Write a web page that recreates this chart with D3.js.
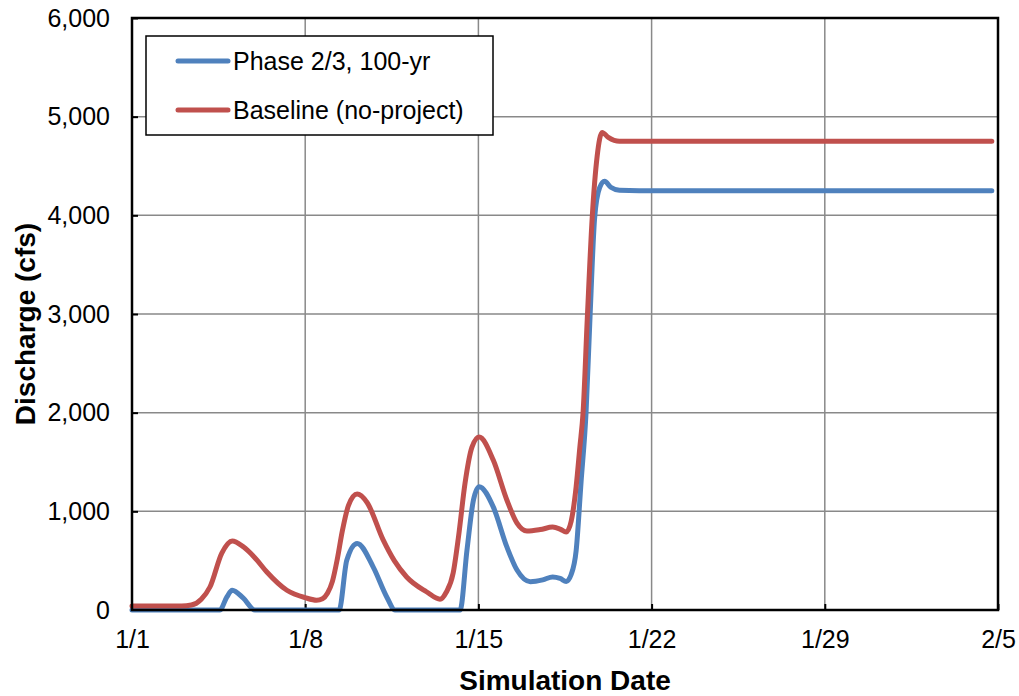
<!DOCTYPE html>
<html>
<head>
<meta charset="utf-8">
<script src="https://cdn.jsdelivr.net/npm/d3@7"></script>
<style>
  body { margin: 0; background: #fff; }
  text { font-family: "Liberation Sans", Arial, sans-serif; fill: #000; }
</style>
</head>
<body>
<div id="chart1"></div>
<script>

// days since 1/1
var phaseDays = [0, 3.55, 3.83, 4.05, 4.5, 4.97, 8.37, 8.68, 9.1, 9.75, 10.3, 10.63, 13.26, 13.54, 13.8, 14.03, 14.6, 15.15, 15.56, 16.1, 16.6, 17.0, 17.3, 17.55, 17.75, 17.95, 18.15, 18.35, 18.5, 18.7, 18.9, 19.1, 19.35, 19.7, 20.5, 34.75];
var phaseFlow = [0, 0, 130, 200, 120, 0, 0, 505, 675, 435, 130, 0, 0, 610, 1115, 1250, 1045, 640, 405, 287, 305, 335, 320, 290, 360, 600, 1300, 2000, 2900, 3980, 4280, 4345, 4285, 4255, 4250, 4250];

var baseDays = [0, 2.0, 2.4, 2.8, 3.15, 3.63, 4.05, 4.5, 5.0, 5.45, 6.26, 7.0, 7.46, 7.7, 7.9, 8.1, 8.3, 8.5, 8.75, 9.1, 9.5, 10.15, 10.6, 11.1, 11.9, 12.45, 12.7, 12.98, 13.2, 13.46, 13.74, 14.03, 14.6, 15.15, 15.56, 15.96, 16.5, 17.0, 17.3, 17.55, 17.75, 17.95, 18.1, 18.23, 18.4, 18.6, 18.8, 19.0, 19.25, 19.7, 20.5, 34.75];
var baseFlow = [40, 40, 50, 110, 233, 577, 700, 640, 520, 385, 200, 125, 100, 115, 170, 290, 520, 800, 1060, 1175, 1090, 710, 500, 335, 185, 110, 180, 375, 750, 1285, 1650, 1753, 1520, 1115, 880, 800, 815, 840, 820, 790, 900, 1250, 1650, 2000, 2950, 3980, 4600, 4840, 4790, 4750, 4750, 4750];

var tickDays = [0, 7, 14, 21, 28, 35];
var tickLabels = ["1/1", "1/8", "1/15", "1/22", "1/29", "2/5"];
var yTicks = [0, 1000, 2000, 3000, 4000, 5000, 6000];

var seriesNames = ["Phase 2/3, 100-yr", "Baseline (no-project)"];
var seriesColors = ["#4f81bd", "#c0504d"];

var width = 1019, height = 696;
var margin = {top: 18, right: 21, bottom: 86, left: 132};
var w = width - margin.left - margin.right;
var h = height - margin.top - margin.bottom;

var svg = d3.select("#chart1")
    .append("svg")
    .attr("width", width)
    .attr("height", height);

var g = svg.append("g")
    .attr("transform", "translate(" + margin.left + "," + margin.top + ")");

var xScale = d3.scaleLinear().domain([0, 35]).range([0, w]);
var yScale = d3.scaleLinear().domain([0, 6000]).range([h, 0]);

// grid
g.selectAll(".vgrid")
    .data(tickDays)
    .enter().append("line")
        .attr("x1", function(d) { return xScale(d); })
        .attr("x2", function(d) { return xScale(d); })
        .attr("y1", 0)
        .attr("y2", h)
        .attr("stroke", "#898989")
        .attr("stroke-width", 1.5);

g.selectAll(".hgrid")
    .data(yTicks)
    .enter().append("line")
        .attr("x1", 0)
        .attr("x2", w)
        .attr("y1", function(d) { return yScale(d); })
        .attr("y2", function(d) { return yScale(d); })
        .attr("stroke", "#898989")
        .attr("stroke-width", 1.5);

// axes (ticks inward)
var xAxis = d3.axisBottom(xScale)
    .tickValues(tickDays)
    .tickSize(-6)
    .tickPadding(20)
    .tickFormat(function(d, i) { return tickLabels[i]; });

var yAxis = d3.axisLeft(yScale)
    .tickValues(yTicks)
    .tickSize(-6)
    .tickPadding(22)
    .tickFormat(d3.format(","));

var gx = g.append("g")
    .attr("transform", "translate(0," + h + ")")
    .call(xAxis);

var gy = g.append("g").call(yAxis);

[gx, gy].forEach(function(ax) {
    ax.select(".domain").remove();
    ax.selectAll(".tick line").attr("stroke", "#000").attr("stroke-width", 2);
    ax.selectAll(".tick text")
        .attr("font-size", "25px")
        .attr("font-family", "Liberation Sans, Arial, sans-serif")
        .attr("fill", "#000");
});

// lines
var series = [
    {name: seriesNames[0], color: seriesColors[0], values: phaseDays.map(function(d, i) { return [d, phaseFlow[i]]; })},
    {name: seriesNames[1], color: seriesColors[1], values: baseDays.map(function(d, i) { return [d, baseFlow[i]]; })}
];

var line = d3.line()
    .x(function(d) { return xScale(d[0]); })
    .y(function(d) { return yScale(d[1]); })
    .curve(d3.curveMonotoneX);

g.selectAll(".series")
    .data(series)
    .enter().append("path")
        .attr("d", function(d) { return line(d.values); })
        .attr("fill", "none")
        .attr("stroke", function(d) { return d.color; })
        .attr("stroke-width", 5)
        .attr("stroke-linecap", "round")
        .attr("stroke-linejoin", "round");

// frame
g.append("rect")
    .attr("width", w)
    .attr("height", h)
    .attr("fill", "none")
    .attr("stroke", "#000")
    .attr("stroke-width", 2.5);

// legend
var legend = svg.append("g").attr("transform", "translate(146,36)");
legend.append("rect")
    .attr("width", 347)
    .attr("height", 99)
    .attr("fill", "#fff")
    .attr("stroke", "#000")
    .attr("stroke-width", 1.5);

var items = legend.selectAll(".item")
    .data(series)
    .enter().append("g")
        .attr("transform", function(d, i) { return "translate(0," + (25 + i * 49) + ")"; });

items.append("line")
    .attr("x1", 32).attr("x2", 82)
    .attr("stroke", function(d) { return d.color; })
    .attr("stroke-width", 5)
    .attr("stroke-linecap", "round");

items.append("text")
    .attr("x", 87)
    .attr("dy", "0.35em")
    .attr("font-size", "25px")
    .text(function(d) { return d.name; });

// axis titles
svg.append("text")
    .attr("x", margin.left + w / 2)
    .attr("y", 690)
    .attr("text-anchor", "middle")
    .attr("font-size", "28px")
    .attr("font-weight", "bold")
    .text("Simulation Date");

svg.append("text")
    .attr("transform", "translate(35," + (margin.top + h / 2 + 10) + ") rotate(-90)")
    .attr("text-anchor", "middle")
    .attr("font-size", "28px")
    .attr("font-weight", "bold")
    .text("Discharge (cfs)");

</script>
</body>
</html>
